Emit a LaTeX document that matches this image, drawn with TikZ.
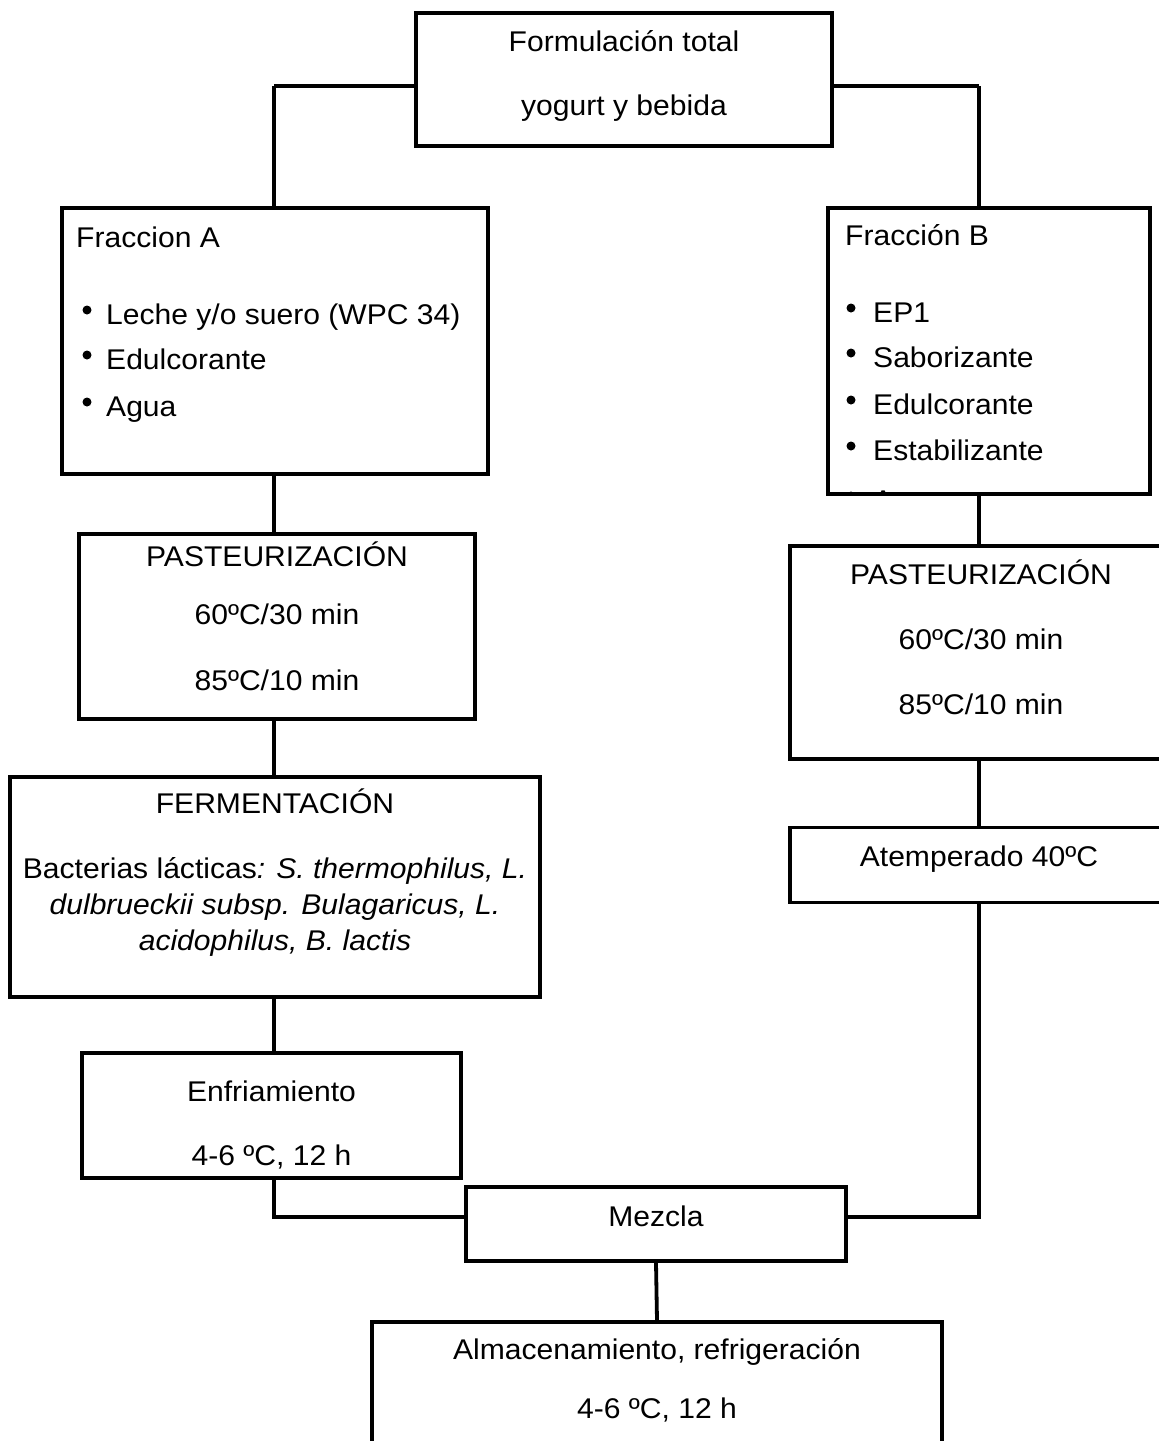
\documentclass[tikz,border=0pt]{standalone}
\usepackage{fontspec}
\setmainfont{Liberation Sans}[FakeStretch=1.055]
\usetikzlibrary{calc}
\begin{document}
\begin{tikzpicture}[x=1pt,y=-1pt,
  box/.style={draw,line width=3.6pt,rectangle,inner sep=0pt,fill=none},
  txt/.style={inner sep=0pt,font=\fontsize{28.5pt}{34pt}\selectfont},
  dot/.style={circle,fill,inner sep=0pt,minimum size=9pt},
  conn/.style={line width=3.8pt},
  topconn/.style={line width=4.8pt}]
\fill[white] (0,0) rectangle (1159,1441);
\useasboundingbox (0,0) rectangle (1159,1441);
\clip (0,0) rectangle (1159,1441);

% boxes
\node[box,minimum width=416pt,minimum height=133pt] (top) at (624,79.5) {};
\node[box,minimum width=426pt,minimum height=266pt] (fa) at (275,341) {};
\node[box,minimum width=322pt,minimum height=286pt] (fb) at (989,351) {};
\node[box,minimum width=396pt,minimum height=185pt] (pa) at (277,626.5) {};
\node[box,minimum width=382pt,minimum height=213pt] (pb) at (981,652.5) {};
\node[box,minimum width=530pt,minimum height=220pt] (fe) at (275,887) {};
\node[box,minimum width=382pt,minimum height=75pt] (at) at (981,865) {};
\node[box,minimum width=379pt,minimum height=125pt] (en) at (271.5,1115.5) {};
\node[box,minimum width=380pt,minimum height=74pt] (mz) at (656,1224) {};
\node[box,minimum width=570pt,minimum height=150pt] (al) at (657,1397) {};

% texts
\node[txt,anchor=base] (t1) at (624,51) {Formulación total};
\node[txt,anchor=base] (t2) at (624,115) {yogurt y bebida};

\node[txt,anchor=base west] (fat) at (76,247) {Fraccion A};
\node[dot] (fab1) at (87,310) {};
\node[txt,anchor=base west] (fa1) at (106,324) {Leche y/o suero (WPC 34)};
\node[dot] (fab2) at (87,355) {};
\node[txt,anchor=base west] (fa2) at (106,369) {Edulcorante};
\node[dot] (fab3) at (87,402) {};
\node[txt,anchor=base west] (fa3) at (106,416) {Agua};

\node[txt,anchor=base west] (fbt) at (845,245) {Fracción B};
\node[dot] (fbb1) at (851,308) {};
\node[txt,anchor=base west] (fb1) at (873,322) {EP1};
\node[dot] (fbb2) at (851,353) {};
\node[txt,anchor=base west] (fb2) at (873,367) {Saborizante};
\node[dot] (fbb3) at (851,400) {};
\node[txt,anchor=base west] (fb3) at (873,414) {Edulcorante};
\node[dot] (fbb4) at (851,446) {};
\node[txt,anchor=base west] (fb4) at (873,460) {Estabilizante};
\begin{scope}
  \clip (fb.north west) rectangle ([xshift=-2pt,yshift=2pt]fb.south east);
  \node[dot] (fbb5) at (851,496) {};
  \node[txt,anchor=base west] (fb5) at (873,510) {Agua};
\end{scope}

\node[txt,anchor=base] (pa1) at (277,566) {PASTEURIZACIÓN};
\node[txt,anchor=base] (pa2) at (277,624) {60ºC/30 min};
\node[txt,anchor=base] (pa3) at (277,690) {85ºC/10 min};

\node[txt,anchor=base] (pb1) at (981,584) {PASTEURIZACIÓN};
\node[txt,anchor=base] (pb2) at (981,649) {60ºC/30 min};
\node[txt,anchor=base] (pb3) at (981,714) {85ºC/10 min};

\node[txt,anchor=base] (at1) at (979,866) {Atemperado 40ºC};

\node[txt,anchor=base] (fe1) at (275,813) {FERMENTACIÓN};
\node[txt,anchor=base] (fe2) at (275,878) {Bacterias lácticas\textit{: S. thermophilus, L.}};
\node[txt,anchor=base] (fe3) at (275,914) {\textit{dulbrueckii subsp. Bulagaricus, L.}};
\node[txt,anchor=base] (fe4) at (275,950) {\textit{acidophilus, B. lactis}};

\node[txt,anchor=base] (en1) at (271.5,1101) {Enfriamiento};
\node[txt,anchor=base] (en2) at (271.5,1165) {4-6 ºC, 12 h};

\node[txt,anchor=base] (mz1) at (656,1226) {Mezcla};

\node[txt,anchor=base] (al1) at (657,1359) {Almacenamiento, refrigeración};
\node[txt,anchor=base] (al2) at (657,1418) {4-6 ºC, 12 h};

% junctions
\coordinate (j1) at (274,86);
\coordinate (j2) at (979,86);
\coordinate (j3) at (274,1217);
\coordinate (j4) at (979,1217);

% connectors
\draw[topconn] (top.west |- j1) -- (j1);
\draw[conn] (j1) -- (j1 |- fa.north);
\draw[topconn] (top.east |- j2) -- (j2);
\draw[conn] (j2) -- (j2 |- fb.north);
\draw[conn] (j1 |- fa.south) -- (j1 |- pa.north);
\draw[conn] (j1 |- pa.south) -- (j1 |- fe.north);
\draw[conn] (j1 |- fe.south) -- (j1 |- en.north);
\draw[conn] (j1 |- en.south) -- (j3) -- (j3 -| mz.west);
\draw[conn] (j2 |- fb.south) -- (j2 |- pb.north);
\draw[conn] (j2 |- pb.south) -- (j2 |- at.north);
\draw[conn] (j2 |- at.south) -- (j4) -- (j4 -| mz.east);
\draw[conn] (mz.south) -- (al.north);
\end{tikzpicture}
\end{document}
